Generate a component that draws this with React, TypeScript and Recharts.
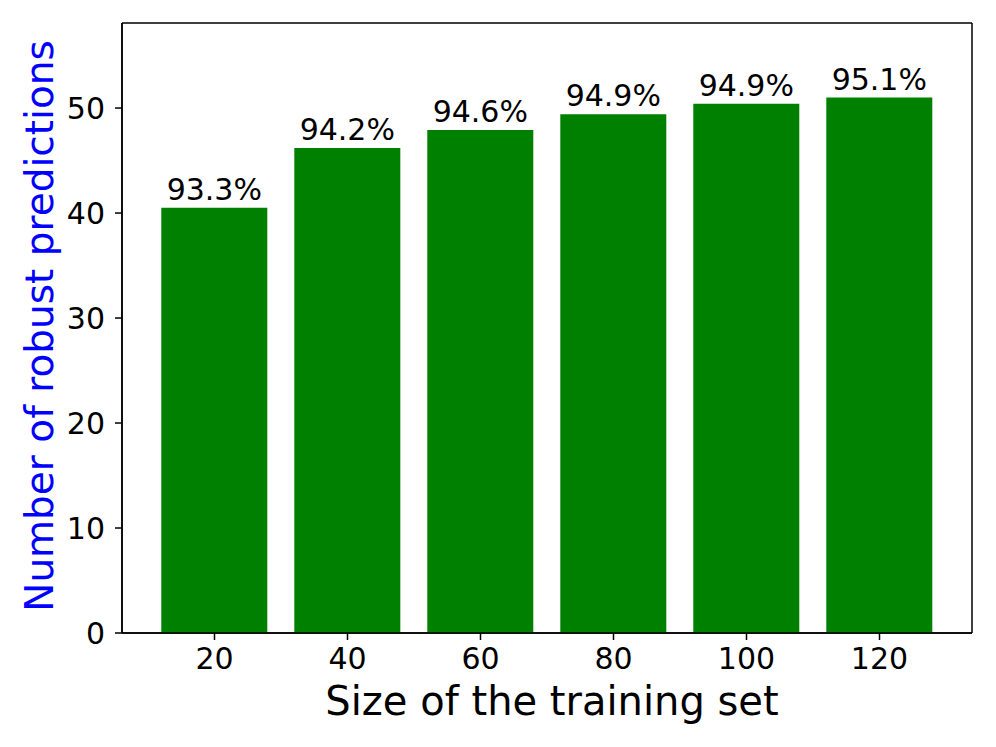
import { BarChart, Bar, XAxis, YAxis, LabelList, Label, CartesianGrid } from 'recharts';

const sizes = ['20', '40', '60', '80', '100', '120'];
const robustCounts = [40.5, 46.2, 47.9, 49.4, 50.4, 51.0];
const accuracyLabels = ['93.3%', '94.2%', '94.6%', '94.9%', '94.9%', '95.1%'];
const yTicks = [0, 10, 20, 30, 40, 50];

const data = sizes.map((size, i) => ({ size, robust: robustCounts[i], acc: accuracyLabels[i] }));

const font = 'DejaVu Sans, sans-serif';
const axisStyle = { stroke: '#000', strokeWidth: 1.5 };

function AccLabel(props: any) {
  const { x, y, width, index } = props;
  return (
    <text x={x + width / 2} y={y - 8} textAnchor="middle" fontSize={30} fontFamily={font} fill="#000">
      {accuracyLabels[index]}
    </text>
  );
}

// frame lines on the plot edges (matplotlib draws all four spines)
const frameH = ({ offset }: any) => [offset.top, offset.top + offset.height];
const frameV = ({ offset }: any) => [offset.left, offset.left + offset.width];

export default function App() {
  return (
    <div style={{ position: 'absolute', left: 0, top: 0, background: '#fff' }}>
      <BarChart
        width={996}
        height={747}
        data={data}
        margin={{ top: 23, right: 24, left: 0, bottom: 0 }}
        barCategoryGap="10%"
      >
        <CartesianGrid
          stroke="#000"
          strokeWidth={1.5}
          horizontalCoordinatesGenerator={frameH}
          verticalCoordinatesGenerator={frameV}
        />
        <XAxis
          dataKey="size"
          height={114}
          padding={{ left: 26, right: 26 }}
          tick={{ fontSize: 30, fontFamily: font, fill: '#000' }}
          tickLine={axisStyle}
          axisLine={axisStyle}
          tickSize={7}
          tickMargin={8}
        >
          <Label
            value="Size of the training set"
            position="insideBottom"
            offset={32}
            dx={5}
            style={{ fontSize: 40, fontFamily: font, fill: '#000' }}
          />
        </XAxis>
        <YAxis
          width={122}
          domain={[0, 58.1]}
          ticks={yTicks}
          tick={{ fontSize: 30, fontFamily: font, fill: '#000' }}
          tickLine={axisStyle}
          axisLine={axisStyle}
          tickSize={7}
          tickMargin={10}
        >
          <Label
            content={() => (
              <text
                x={53}
                y={326}
                transform="rotate(-90 53 326)"
                textAnchor="middle"
                fontSize={39}
                fontFamily={font}
                fill="#0000ff"
              >
                Number of robust predictions
              </text>
            )}
          />
        </YAxis>
        <Bar dataKey="robust" fill="#008000" isAnimationActive={false}>
          <LabelList dataKey="acc" content={AccLabel} />
        </Bar>
      </BarChart>
    </div>
  );
}
